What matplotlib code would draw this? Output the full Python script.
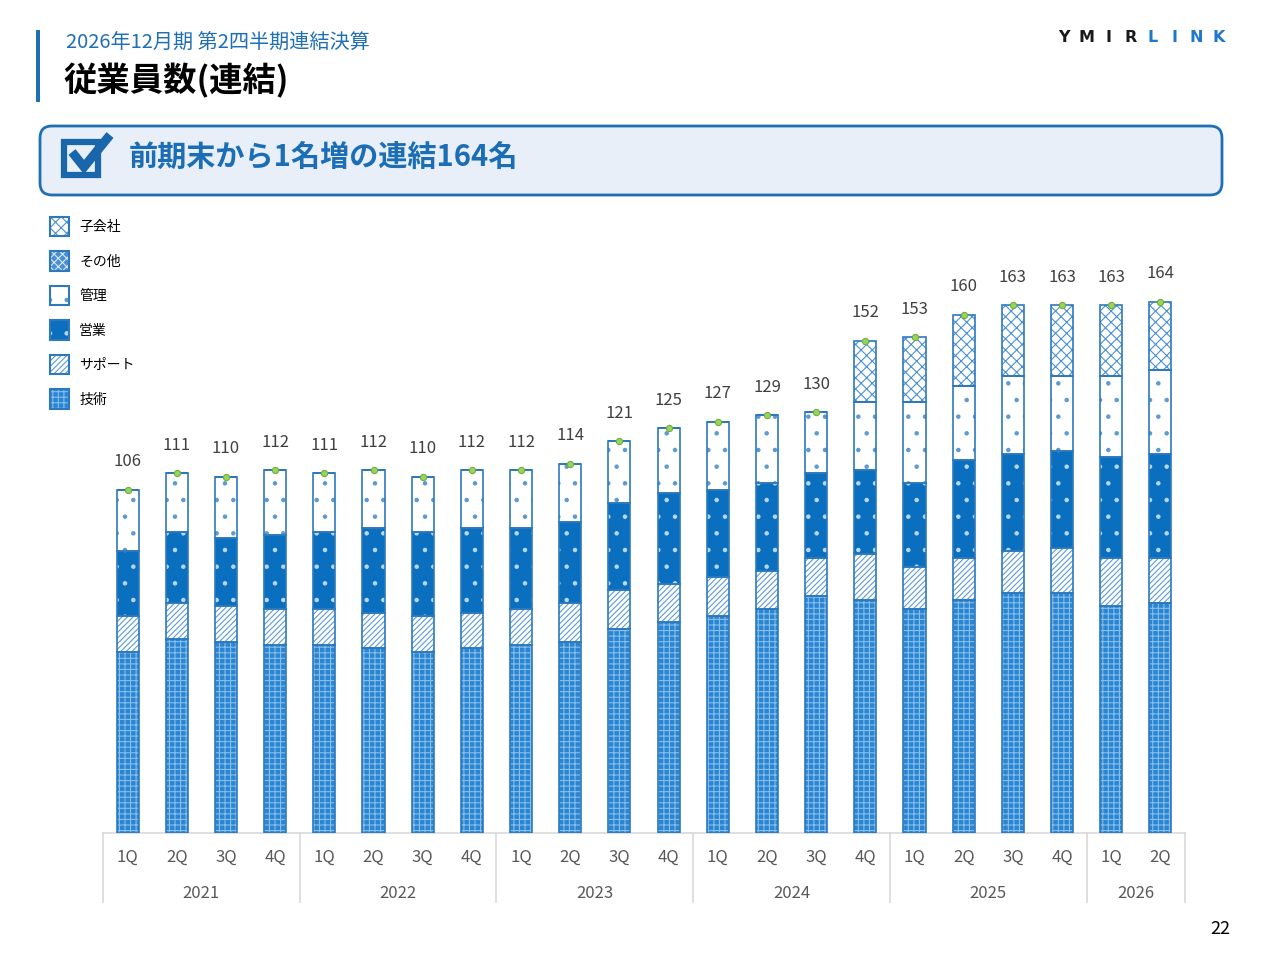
import numpy as np
import matplotlib.pyplot as plt
from matplotlib.patches import Patch, Rectangle, FancyBboxPatch
from matplotlib.legend_handler import HandlerTuple

plt.rcParams['font.family'] = ['Noto Sans CJK JP', 'DejaVu Sans']
plt.rcParams['hatch.linewidth'] = 0.8

# data
quarters = ['1Q', '2Q', '3Q', '4Q'] * 5 + ['1Q', '2Q']
years = ['2021', '2022', '2023', '2024', '2025', '2026']
year_spans = [4, 4, 4, 4, 4, 2]

tech = [56, 60, 59, 58, 58, 57, 56, 57, 58, 59, 63, 65, 67, 69, 73, 72, 69, 72, 74, 74, 70, 71]
support = [11, 11, 11, 11, 11, 11, 11, 11, 11, 12, 12, 12, 12, 12, 12, 14, 13, 13, 13, 14, 15, 14]
sales = [20, 22, 21, 23, 24, 26, 26, 26, 25, 25, 27, 28, 27, 27, 26, 26, 26, 30, 30, 30, 31, 32]
admin = [19, 18, 19, 20, 18, 18, 17, 18, 18, 18, 19, 20, 21, 21, 19, 21, 25, 23, 24, 23, 25, 26]
other = [0] * 22
subsidiary = [0] * 15 + [19, 20, 22, 22, 22, 22, 21]

series = [
    ('技術', tech, '#2a86d2', '#86bdea', '+++'),
    ('サポート', support, 'white', '#5b9bd5', '//////'),
    ('営業', sales, '#0a6fbf', '#b9d8f3', '.'),
    ('管理', admin, 'white', '#5c9ad3', '.'),
    ('その他', other, '#4a90d0', '#d8e8f7', 'xxxx'),
    ('子会社', subsidiary, 'white', '#4a90d0', 'xxx'),
]
edge_blue = '#2e79bd'
gray_txt = '#595959'

fig = plt.figure(figsize=(12.8, 9.6), dpi=100)

# overlay in pixel coords for the slide decoration
deco = fig.add_axes([0, 0, 1, 1])
deco.set_xlim(0, 1280)
deco.set_ylim(960, 0)
deco.axis('off')

deco.add_patch(Rectangle((36, 30), 4, 72, color='#1f6fb5', lw=0))
deco.text(66, 42, '2026年12月期 第2四半期連結決算', fontsize=14.5, color='#1f6fb5', va='center')
deco.text(63, 81, '従業員数(連結)', fontsize=24, fontweight='bold', color='black', va='center')

logo = 'YMIRLINK'
for i, ch in enumerate(logo):
    deco.text(1064 + i * 22.1, 37, ch, fontsize=11.5, fontweight='bold', ha='center', va='center',
              color='#1a1a1a' if i < 4 else '#1f78c8', family='DejaVu Sans')

box = FancyBboxPatch((40, 126), 1182, 69, boxstyle='round,pad=0,rounding_size=12',
                     fc='#e9eff8', ec='#1f6fb5', lw=2)
deco.add_patch(box)
deco.add_patch(Rectangle((64, 142), 34, 33, fill=False, ec='#1a66ab', lw=4.5))
deco.plot([72, 84, 110], [152, 167, 135], color='#1a66ab', lw=6.5, solid_capstyle='butt',
          solid_joinstyle='miter')
deco.text(129, 157, '前期末から1名増の連結164名', fontsize=21, fontweight='bold', color='#1b6db5',
          va='center')
deco.text(1230, 929, '22', fontsize=13, color='black', ha='right', va='center')

# main chart
ax = fig.add_axes([103 / 1280, 1 - 833 / 960, 1082 / 1280, 583 / 960])
ax.patch.set_alpha(0)
x = np.arange(len(tech))
ymax = 583 / 3.24
ax.set_xlim(-0.5, len(tech) - 0.5)
ax.set_ylim(0, ymax)
for s in ax.spines.values():
    s.set_visible(False)
ax.set_xticks([])
ax.set_yticks([])

bottom = np.zeros(len(tech))
handles = []
for name, vals, fc, hc, hatch in series:
    vals = np.array(vals)
    ax.bar(x, vals, 0.45, bottom=bottom, color=fc, edgecolor=hc, hatch=hatch, lw=0, zorder=2)
    ax.bar(x, vals, 0.45, bottom=bottom, fill=False, edgecolor=edge_blue, lw=1.2, zorder=3)
    bottom = bottom + vals
    handles.append((Patch(fc=fc, ec=hc, hatch=hatch, lw=0),
                    Patch(fill=False, ec=edge_blue, lw=1.5)))

totals = bottom
ax.plot(x, totals, ls='none', marker='o', ms=4.5, mfc='#9bd35a', mec='#6fae3f', mew=0.8, zorder=4)
for xi, t in zip(x, totals):
    ax.annotate(f'{int(t)}', (xi, t), xytext=(0, 20), textcoords='offset points',
                ha='center', va='center', fontsize=12, color='#404040')

# category axis
ax.plot([-0.5, len(tech) - 0.5], [0, 0], color='#d9d9d9', lw=1.2, clip_on=False, zorder=1)
for xi, q in zip(x, quarters):
    ax.text(xi, -7.4, q, ha='center', va='center', fontsize=12, color=gray_txt)
edges = np.concatenate([[0], np.cumsum(year_spans)]) - 0.5
for e in edges:
    ax.plot([e, e], [0, -21.3], color='#d9d9d9', lw=1.2, clip_on=False)
for y, a, b in zip(years, edges[:-1], edges[1:]):
    ax.text((a + b) / 2, -18.6, y, ha='center', va='center', fontsize=12, color=gray_txt)

labels = [s[0] for s in series]
ax.legend(handles[::-1], labels[::-1], handler_map={tuple: HandlerTuple(ndivide=1, pad=0)},
          loc='upper left', bbox_to_anchor=(50 / 1280, 1 - 217 / 960), bbox_transform=fig.transFigure,
          frameon=False, fontsize=10, labelspacing=1.1, handlelength=1.35, handleheight=1.75,
          handletextpad=0.75, borderpad=0, borderaxespad=0)

fig.savefig('out.png', dpi=100)
